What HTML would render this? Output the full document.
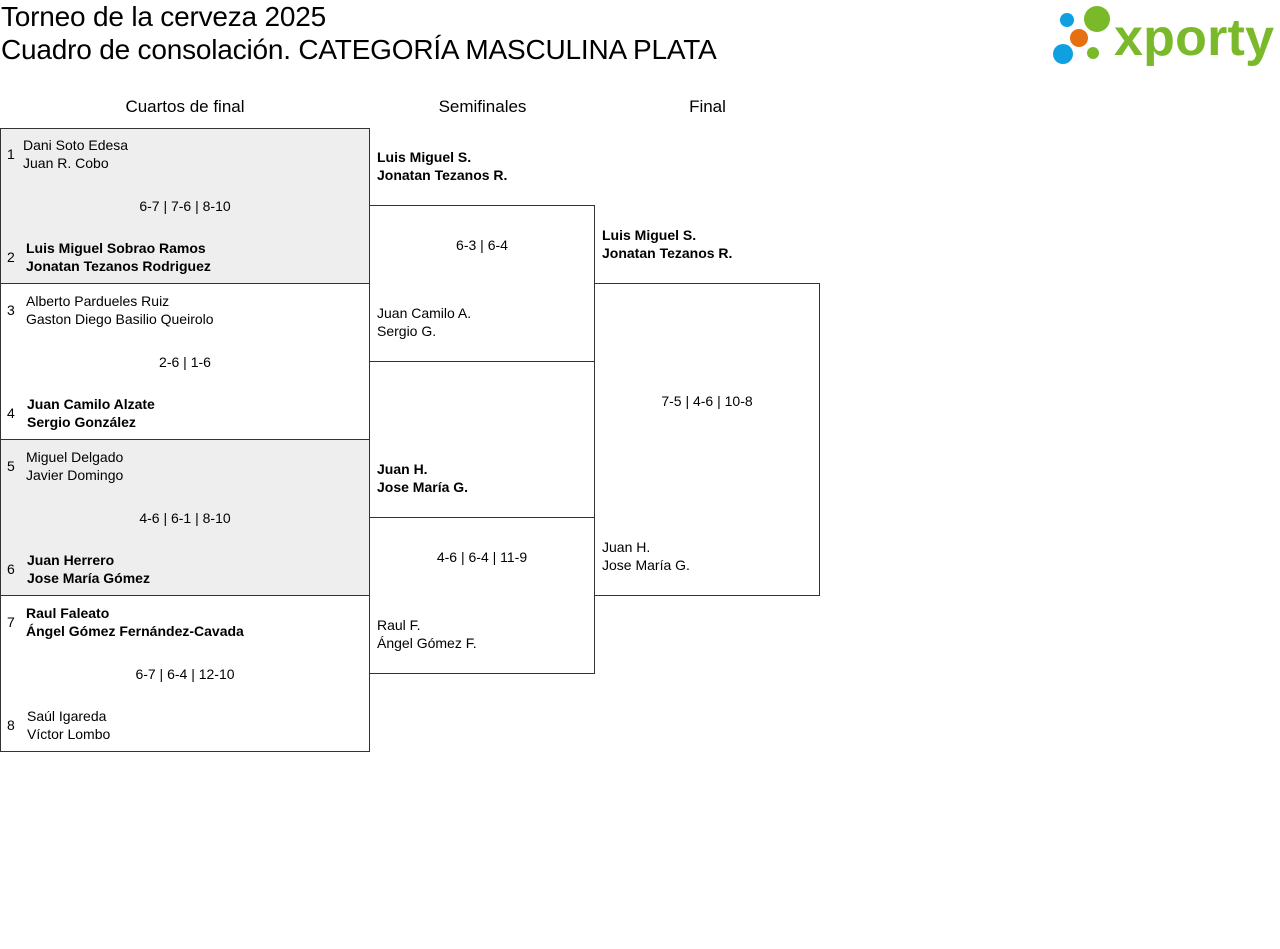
<!DOCTYPE html>
<html><head><meta charset="utf-8"><style>
body{margin:0;width:1280px;height:949px;background:#fff;position:relative;overflow:hidden;font-family:"Liberation Sans",sans-serif;color:#000}
.a{position:absolute;white-space:nowrap}
.t{font-size:14px;line-height:18px}
.b{font-weight:bold}
.box{position:absolute;border:1px solid #333;box-sizing:border-box}
.h{font-size:17px;line-height:20px;text-align:center}
.sc{font-size:14px;line-height:18px;text-align:center}
</style></head><body>
<div class="a" style="left:1px;top:1px;font-size:28px;line-height:32px;letter-spacing:-0.2px">Torneo de la cerveza 2025</div>
<div class="a" style="left:1px;top:34px;font-size:28px;line-height:32px;letter-spacing:-0.2px">Cuadro de consolación. CATEGORÍA MASCULINA PLATA</div>
<svg class="a" style="left:1050px;top:4px" width="226" height="62">
<circle cx="17" cy="16" r="7" fill="#0ea0e0"/><circle cx="47" cy="15" r="13" fill="#7ab929"/>
<circle cx="29" cy="34" r="9" fill="#e5700f"/><circle cx="13" cy="50" r="10" fill="#0ea0e0"/><circle cx="43" cy="49" r="6" fill="#7ab929"/>
<text x="64" y="51" font-family="Liberation Sans" font-weight="bold" font-size="52" fill="#7ab929" textLength="160">xporty</text>
</svg>
<div class="a h" style="left:0;width:370px;top:97px">Cuartos de final</div>
<div class="a h" style="left:370px;width:225px;top:97px">Semifinales</div>
<div class="a h" style="left:595px;width:225px;top:97px">Final</div>

<div class="box" style="left:0;top:128px;width:370px;height:156px;background:#eee"></div>
<div class="box" style="left:0;top:283px;width:370px;height:157px"></div>
<div class="box" style="left:0;top:439px;width:370px;height:157px;background:#eee"></div>
<div class="box" style="left:0;top:595px;width:370px;height:157px"></div>
<div class="box" style="left:369px;top:205px;width:226px;height:157px"></div>
<div class="box" style="left:369px;top:517px;width:226px;height:157px"></div>
<div class="box" style="left:594px;top:283px;width:226px;height:313px"></div>

<div class="a t" style="left:7px;top:145px">1</div>
<div class="a t" style="left:23px;top:136px">Dani Soto Edesa<br>Juan R. Cobo</div>
<div class="a sc" style="left:0;width:370px;top:197px">6-7 | 7-6 | 8-10</div>
<div class="a t" style="left:7px;top:248px">2</div>
<div class="a t b" style="left:26px;top:239px">Luis Miguel Sobrao Ramos<br>Jonatan Tezanos Rodriguez</div>

<div class="a t" style="left:7px;top:301px">3</div>
<div class="a t" style="left:26px;top:292px">Alberto Pardueles Ruiz<br>Gaston Diego Basilio Queirolo</div>
<div class="a sc" style="left:0;width:370px;top:353px">2-6 | 1-6</div>
<div class="a t" style="left:7px;top:404px">4</div>
<div class="a t b" style="left:27px;top:395px">Juan Camilo Alzate<br>Sergio González</div>

<div class="a t" style="left:7px;top:457px">5</div>
<div class="a t" style="left:26px;top:448px">Miguel Delgado<br>Javier Domingo</div>
<div class="a sc" style="left:0;width:370px;top:509px">4-6 | 6-1 | 8-10</div>
<div class="a t" style="left:7px;top:560px">6</div>
<div class="a t b" style="left:27px;top:551px">Juan Herrero<br>Jose María Gómez</div>

<div class="a t" style="left:7px;top:613px">7</div>
<div class="a t b" style="left:26px;top:604px">Raul Faleato<br>Ángel Gómez Fernández-Cavada</div>
<div class="a sc" style="left:0;width:370px;top:665px">6-7 | 6-4 | 12-10</div>
<div class="a t" style="left:7px;top:716px">8</div>
<div class="a t" style="left:27px;top:707px">Saúl Igareda<br>Víctor Lombo</div>

<div class="a t b" style="left:377px;top:148px">Luis Miguel S.<br>Jonatan Tezanos R.</div>
<div class="a sc" style="left:369px;width:226px;top:236px">6-3 | 6-4</div>
<div class="a t" style="left:377px;top:304px">Juan Camilo A.<br>Sergio G.</div>

<div class="a t b" style="left:377px;top:460px">Juan H.<br>Jose María G.</div>
<div class="a sc" style="left:369px;width:226px;top:548px">4-6 | 6-4 | 11-9</div>
<div class="a t" style="left:377px;top:616px">Raul F.<br>Ángel Gómez F.</div>

<div class="a t b" style="left:602px;top:226px">Luis Miguel S.<br>Jonatan Tezanos R.</div>
<div class="a sc" style="left:594px;width:226px;top:392px">7-5 | 4-6 | 10-8</div>
<div class="a t" style="left:602px;top:538px">Juan H.<br>Jose María G.</div>
</body></html>
